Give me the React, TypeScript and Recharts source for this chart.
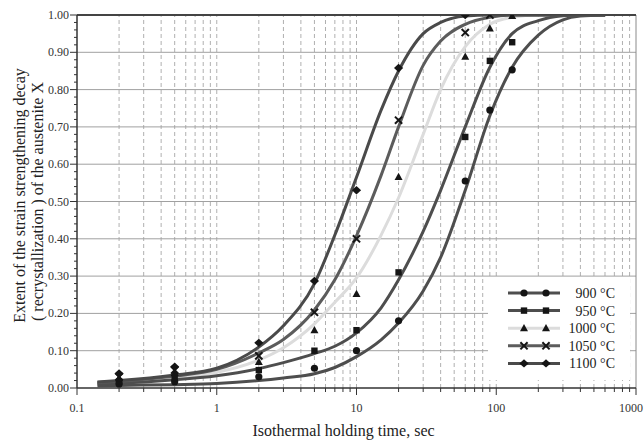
import React from 'react';
import { ComposedChart, Line, Scatter, XAxis, YAxis, ReferenceLine, Legend } from 'recharts';

// Curve sample times (s) and curve values
const curveTime = [0.14, 0.2, 0.5, 1, 2, 3, 5, 7, 10, 15, 20, 30, 40, 60, 90, 130, 200, 300, 400, 600];
const curve900 = [0.006, 0.007, 0.009, 0.012, 0.02, 0.027, 0.038, 0.055, 0.084, 0.129, 0.174, 0.26, 0.35, 0.53, 0.73, 0.86, 0.946, 0.987, 0.997, 1.0];
const curve950 = [0.011, 0.013, 0.022, 0.033, 0.052, 0.068, 0.092, 0.112, 0.148, 0.215, 0.29, 0.42, 0.53, 0.7, 0.86, 0.95, 0.985, 0.998, 1.0, 1.0];
const curve1000 = [0.013, 0.016, 0.028, 0.042, 0.075, 0.108, 0.172, 0.23, 0.295, 0.41, 0.51, 0.68, 0.8, 0.915, 0.975, 0.994, 1.0, 1.0, 1.0, 1.0];
const curve1050 = [0.015, 0.018, 0.032, 0.05, 0.094, 0.13, 0.209, 0.29, 0.408, 0.57, 0.7, 0.865, 0.93, 0.975, 0.994, 1.0, 1.0, 1.0, 1.0, 1.0];
const curve1100 = [0.016, 0.02, 0.035, 0.053, 0.11, 0.167, 0.28, 0.41, 0.565, 0.745, 0.85, 0.95, 0.98, 0.997, 1.0, 1.0, 1.0, 1.0, 1.0, 1.0];

// Measured points
const pointTime = [0.2, 0.5, 2, 5, 10, 20, 60, 90, 130];
const pts900 = [0.011, 0.017, 0.03, 0.053, 0.1, 0.18, 0.555, 0.745, 0.853];
const pts950 = [0.017, 0.027, 0.048, 0.1, 0.155, 0.31, 0.673, 0.877, 0.927];
const pts1000 = [0.026, 0.04, 0.07, 0.155, 0.252, 0.566, 0.888, 0.964, 0.997];
const pts1050 = [0.03, 0.048, 0.086, 0.203, 0.4, 0.718, 0.953, 1.0, null];
const pts1100 = [0.039, 0.057, 0.121, 0.287, 0.53, 0.858, 1.0, null, null];

const seriesNames = ['900 °C', '950 °C', '1000 °C', '1050 °C', '1100 °C'];
const markerTypes = ['circle', 'square', 'triangle', 'cross', 'diamond'];
const lineColors = ['#4e4e4e', '#4e4e4e', '#dcdcdc', '#5c5c5c', '#4a4a4a'];

const xTicks = [0.1, 0.2, 0.3, 0.4, 0.5, 0.6, 0.7, 0.8, 0.9, 1, 2, 3, 4, 5, 6, 7, 8, 9, 10, 20, 30, 40, 50, 60, 70, 80, 90, 100, 200, 300, 400, 500, 600, 700, 800, 900, 1000];
const xMajor = [0.1, 1, 10, 100, 1000];
const xMajorLabels = ['0.1', '1', '10', '100', '1000'];
const xGrid = [0.2, 0.3, 0.4, 0.5, 0.6, 0.7, 0.8, 0.9, 1, 2, 3, 4, 5, 6, 7, 8, 9, 10, 20, 30, 40, 50, 60, 70, 80, 90, 100, 200, 300, 400, 500, 600, 700, 800, 900];
const yTicks = [0, 0.02, 0.04, 0.06, 0.08, 0.1, 0.12, 0.14, 0.16, 0.18, 0.2, 0.22, 0.24, 0.26, 0.28, 0.3, 0.32, 0.34, 0.36, 0.38, 0.4, 0.42, 0.44, 0.46, 0.48, 0.5, 0.52, 0.54, 0.56, 0.58, 0.6, 0.62, 0.64, 0.66, 0.68, 0.7, 0.72, 0.74, 0.76, 0.78, 0.8, 0.82, 0.84, 0.86, 0.88, 0.9, 0.92, 0.94, 0.96, 0.98, 1.0];
const yMajor = [0, 0.1, 0.2, 0.3, 0.4, 0.5, 0.6, 0.7, 0.8, 0.9, 1.0];
const yMajorLabels = ['0.00', '0.10', '0.20', '0.30', '0.40', '0.50', '0.60', '0.70', '0.80', '0.90', '1.00'];

const FONT = '"Liberation Serif", "DejaVu Serif", serif';

const curves = [curve900, curve950, curve1000, curve1050, curve1100].map((c) =>
  curveTime.map((t, i) => ({ x: t, y: c[i] }))
);
const points = [pts900, pts950, pts1000, pts1050, pts1100].map((p) =>
  pointTime.map((t, i) => ({ x: t, y: p[i] })).filter((d) => d.y !== null)
);

function Marker({ type, cx, cy }: { type: string; cx: number; cy: number }) {
  const c = '#151515';
  switch (type) {
    case 'circle':
      return <circle cx={cx} cy={cy} r={3.6} fill={c} />;
    case 'square':
      return <rect x={cx - 3.2} y={cy - 3.2} width={6.4} height={6.4} fill={c} />;
    case 'triangle':
      return <polygon points={`${cx},${cy - 4.2} ${cx - 4},${cy + 3} ${cx + 4},${cy + 3}`} fill={c} />;
    case 'cross':
      return (
        <g stroke={c} strokeWidth={2}>
          <line x1={cx - 3.6} y1={cy - 3.6} x2={cx + 3.6} y2={cy + 3.6} />
          <line x1={cx - 3.6} y1={cy + 3.6} x2={cx + 3.6} y2={cy - 3.6} />
        </g>
      );
    default:
      return <polygon points={`${cx - 4.6},${cy} ${cx},${cy - 4.2} ${cx + 4.6},${cy} ${cx},${cy + 4.2}`} fill={c} />;
  }
}

const XTick = (props: any) => {
  const { x, y, payload } = props;
  const idx = xMajor.indexOf(payload.value);
  const major = idx >= 0;
  const last = idx === xMajor.length - 1;
  return (
    <g>
      <line x1={x} x2={x} y1={y} y2={y + (major ? 7 : 4)} stroke="#333" strokeWidth={1} />
      {major && (
        <text x={last ? x + 7 : x} y={y + 24} textAnchor={last ? 'end' : 'middle'} fontFamily={FONT} fontSize={12} fill="#333">
          {xMajorLabels[idx]}
        </text>
      )}
    </g>
  );
};

const YTick = (props: any) => {
  const { x, y, payload } = props;
  const idx = yMajor.findIndex((v) => Math.abs(v - payload.value) < 1e-9);
  const major = idx >= 0;
  return (
    <g>
      <line x1={x} x2={x - (major ? 7 : 3)} y1={y} y2={y} stroke="#333" strokeWidth={1} />
      {major && (
        <text x={x - 8} y={y + 4} textAnchor="end" fontFamily={FONT} fontSize={12} fill="#333">
          {yMajorLabels[idx]}
        </text>
      )}
    </g>
  );
};

const LegendContent = () => (
  <svg width={142} height={102} style={{ display: 'block', background: '#fff' }}>
    {seriesNames.map((name, i) => {
      const cy = 15 + i * 17.6;
      return (
        <g key={name}>
          <line x1={20} x2={72} y1={cy} y2={cy} stroke={lineColors[i]} strokeWidth={3} />
          <Marker type={markerTypes[i]} cx={36} cy={cy} />
          <Marker type={markerTypes[i]} cx={58} cy={cy} />
          <text x={127} y={cy + 5} textAnchor="end" fontFamily={FONT} fontSize={14} fill="#222">
            {name}
          </text>
        </g>
      );
    })}
  </svg>
);

export default function App() {
  return (
    <div style={{ position: 'absolute', left: 0, top: 0, width: 644, height: 441, background: '#fff' }}>
      <ComposedChart width={644} height={441} margin={{ top: 15, right: 8, bottom: 0, left: 0 }}>
        <XAxis
          dataKey="x"
          type="number"
          scale="log"
          domain={[0.1, 1000]}
          ticks={xTicks}
          interval={0}
          allowDataOverflow
          height={53}
          tickSize={0}
          tickMargin={0}
          tickLine={false}
          tick={<XTick />}
          axisLine={{ stroke: '#333', strokeWidth: 1.5 }}
          label={(p: any) => {
            const vb = p.viewBox;
            return (
              <text x={vb.x + vb.width / 2 - 13} y={436} textAnchor="middle" fontFamily={FONT} fontSize={16} fill="#222">
                Isothermal holding time, sec
              </text>
            );
          }}
        />
        <YAxis
          dataKey="y"
          type="number"
          domain={[0, 1]}
          ticks={yTicks}
          interval={0}
          allowDataOverflow
          width={77}
          tickSize={0}
          tickMargin={0}
          tickLine={false}
          tick={<YTick />}
          axisLine={{ stroke: '#333', strokeWidth: 1.5 }}
          label={(p: any) => {
            const vb = p.viewBox;
            const cy = vb.y + vb.height / 2;
            return (
              <g fontFamily={FONT} fontSize={16} fill="#222">
                <text x={19} y={cy - 6} transform={`rotate(-90, 19, ${cy - 6})`} textAnchor="middle" dominantBaseline="central">
                  Extent of the strain strengthening decay
                </text>
                <text x={37} y={cy} transform={`rotate(-90, 37, ${cy})`} textAnchor="middle" dominantBaseline="central">
                  ( recrystallization ) of the austenite X
                </text>
              </g>
            );
          }}
        />
        {xGrid.map((v) => (
          <ReferenceLine key={'vx' + v} x={v} stroke="#b0b0b0" strokeDasharray="4 3" strokeWidth={1} />
        ))}
        {yMajor.slice(1, 10).map((v) => (
          <ReferenceLine key={'hy' + v} y={v} stroke="#a0a0a0" strokeWidth={1} />
        ))}
        <ReferenceLine x={1000} stroke="#8a8a8a" strokeWidth={1} />
        <ReferenceLine y={1} stroke="#444" strokeWidth={2} />
        {[2, 0, 1, 3, 4].map((i) => (
          <Line
            key={'c' + i}
            data={curves[i]}
            dataKey="y"
            type="monotone"
            stroke={lineColors[i]}
            strokeWidth={3}
            dot={false}
            activeDot={false}
            isAnimationActive={false}
            name={seriesNames[i]}
            legendType="none"
          />
        ))}
        {points.map((pts, i) => (
          <Scatter
            key={'p' + i}
            data={pts}
            dataKey="y"
            isAnimationActive={false}
            legendType="none"
            shape={(sp: any) => <Marker type={markerTypes[i]} cx={sp.cx} cy={sp.cy} />}
          />
        ))}
        <Legend
          layout="vertical"
          align="center"
          verticalAlign="middle"
          content={<LegendContent />}
          wrapperStyle={{ position: 'absolute', left: 488, top: 278, width: 142, height: 102, margin: 0, padding: 0 }}
        />
      </ComposedChart>
    </div>
  );
}
